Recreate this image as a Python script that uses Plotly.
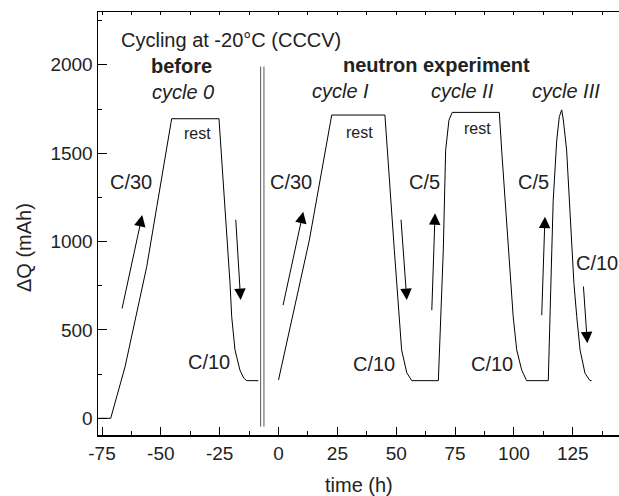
import plotly.graph_objects as go

# ---- data ----
time_before = [-76.5, -71.3, -65.2, -56.0, -51.7, -45.4, -25.3, -21.3, -20.6, -19.9, -18.5, -16.4, -14.8, -13.5, -8.6]
dq_before = [0, 0, 292, 858, 1198, 1695, 1695, 951, 763, 575, 387, 273, 228, 213, 213]

time_neutron = [0, 13.1, 22.6, 45.2, 49.2, 50.2, 51.2, 52.3, 54.5, 56.6, 67.9,
                70.0, 71.0, 72.4, 73.8, 93.8, 94.8, 97.6, 98.6, 99.7, 101.2, 103.3, 105.4, 114.6,
                116.1, 116.7, 118.2, 119.3, 120.3, 121.0, 122.4, 124.5, 125.5, 126.7, 128.1, 130.2, 132.3, 133.0]
dq_neutron = [217, 1009, 1716, 1716, 951, 763, 575, 387, 257, 213, 213,
              951, 1517, 1687, 1731, 1731, 1517, 951, 763, 575, 387, 274, 213, 213,
              951, 1234, 1574, 1707, 1745, 1688, 1517, 951, 763, 575, 387, 255, 213, 213]

separator_x = [-7.6, -6.2]
separator_y = [-47, 1990]

# arrows: (tail_x, tail_y, head_x, head_y)
arrow_tail_x = [-66.6, -18.2, 1.8, 52.0, 65.1, 111.8, 129.5]
arrow_tail_y = [613, 1132, 632, 1132, 603, 575, 754]
arrow_head_x = [-57.9, -16.1, 10.5, 54.5, 66.5, 113.2, 131.2]
arrow_head_y = [1150, 669, 1169, 669, 1160, 1141, 424]

# text labels
label_text = ["Cycling at -20°C (CCCV)", "<b>before</b>", "<i>cycle 0</i>", "<b>neutron experiment</b>",
              "<i>cycle I</i>", "<i>cycle II</i>", "<i>cycle III</i>",
              "C/30", "C/30", "C/5", "C/5", "C/10", "C/10", "C/10", "C/10"]
label_x = [-20.2, -41.1, -40.8, 67.2, 26.5, 78.2, 122.1, -62.7, 5.5, 62.2, 108.5, -29.5, 40.7, 90.6, 135.2]
label_y = [2141, 1995, 1848, 1999, 1852, 1852, 1852, 1339, 1337, 1339, 1339, 320, 306, 306, 881]

rest_x = [-34.6, 34.6, 84.7]
rest_y = [1613, 1616, 1641]

x_tickvals = [-75, -50, -25, 0, 25, 50, 75, 100, 125]
x_ticktext = ["-75", "-50", "-25", "0", "25", "50", "75", "100", "125"]
y_tickvals = [0, 500, 1000, 1500, 2000]
y_ticktext = ["0", "500", "1000", "1500", "2000"]

x_range = [-76.7, 144.65]
y_range = [-94.5, 2299]

FONT = "Liberation Sans, Arial, Helvetica, sans-serif"
TXT = "#222222"

fig = go.Figure()
fig.add_trace(go.Scatter(x=time_before, y=dq_before, mode="lines",
                         line=dict(color="black", width=1), showlegend=False, hoverinfo="skip"))
fig.add_trace(go.Scatter(x=time_neutron, y=dq_neutron, mode="lines",
                         line=dict(color="black", width=1), showlegend=False, hoverinfo="skip"))
for sx in separator_x:
    fig.add_trace(go.Scatter(x=[sx, sx], y=separator_y, mode="lines",
                             line=dict(color="#555555", width=1), showlegend=False, hoverinfo="skip"))
# invisible trace to carry the top mirror axis
fig.add_trace(go.Scatter(x=x_range, y=[0, 0], xaxis="x2", mode="markers",
                         marker=dict(opacity=0), showlegend=False, hoverinfo="skip"))

for tx, ty, hx, hy in zip(arrow_tail_x, arrow_tail_y, arrow_head_x, arrow_head_y):
    fig.add_annotation(x=hx, y=hy, ax=tx, ay=ty, xref="x", yref="y", axref="x", ayref="y",
                       text="", showarrow=True, arrowhead=2, arrowsize=2.3, arrowwidth=1,
                       arrowcolor="black", standoff=0, startstandoff=0)

for t, lx, ly in zip(label_text, label_x, label_y):
    fig.add_annotation(x=lx, y=ly, xref="x", yref="y", text=t, showarrow=False,
                       font=dict(family=FONT, size=20, color=TXT),
                       xanchor="center", yanchor="middle")
for lx, ly in zip(rest_x, rest_y):
    fig.add_annotation(x=lx, y=ly, xref="x", yref="y", text="rest", showarrow=False,
                       font=dict(family=FONT, size=16, color=TXT),
                       xanchor="center", yanchor="middle")

# axis titles
fig.add_annotation(x=0.5, y=-0.118, xref="paper", yref="paper", text="time (h)", showarrow=False,
                   font=dict(family=FONT, size=20, color=TXT), xanchor="center", yanchor="middle")
fig.add_annotation(x=-0.142, y=0.442, xref="paper", yref="paper", text="ΔQ (mAh)", showarrow=False,
                   textangle=-90, font=dict(family=FONT, size=20, color=TXT),
                   xanchor="center", yanchor="middle")

axis_common = dict(showgrid=False, zeroline=False, showline=True, linecolor="black", linewidth=1.5,
                   ticks="inside", tickcolor="black", tickwidth=1, automargin=False,
                   tickfont=dict(family=FONT, size=19, color=TXT))

fig.update_layout(
    width=619, height=496,
    margin=dict(l=98, r=0, t=12, b=61),
    paper_bgcolor="white", plot_bgcolor="white",
    showlegend=False,
    xaxis=dict(range=x_range, tickmode="array", tickvals=x_tickvals, ticktext=x_ticktext, ticklen=8,
               minor=dict(tick0=0, dtick=12.5, ticks="inside", ticklen=4, tickcolor="black"),
               ticklabelstandoff=1, **axis_common),
    xaxis2=dict(range=x_range, overlaying="x", side="top", showgrid=False, zeroline=False,
                showline=True, linecolor="black", linewidth=1.5, ticks="inside", ticklen=3,
                tickcolor="black", tick0=0, dtick=12.5, showticklabels=False, automargin=False),
    yaxis=dict(range=y_range, tickmode="array", tickvals=y_tickvals, ticktext=y_ticktext, ticklen=9,
               minor=dict(tick0=0, dtick=250, ticks="inside", ticklen=4, tickcolor="black"),
               ticklabelstandoff=0, **axis_common),
)

# remove the default page margin so the 619x496 figure fills the window exactly
fig.write_html("out.html",
               config={"displayModeBar": False, "staticPlot": True},
               post_script="document.body.style.margin='0';document.body.style.overflow='hidden';")
